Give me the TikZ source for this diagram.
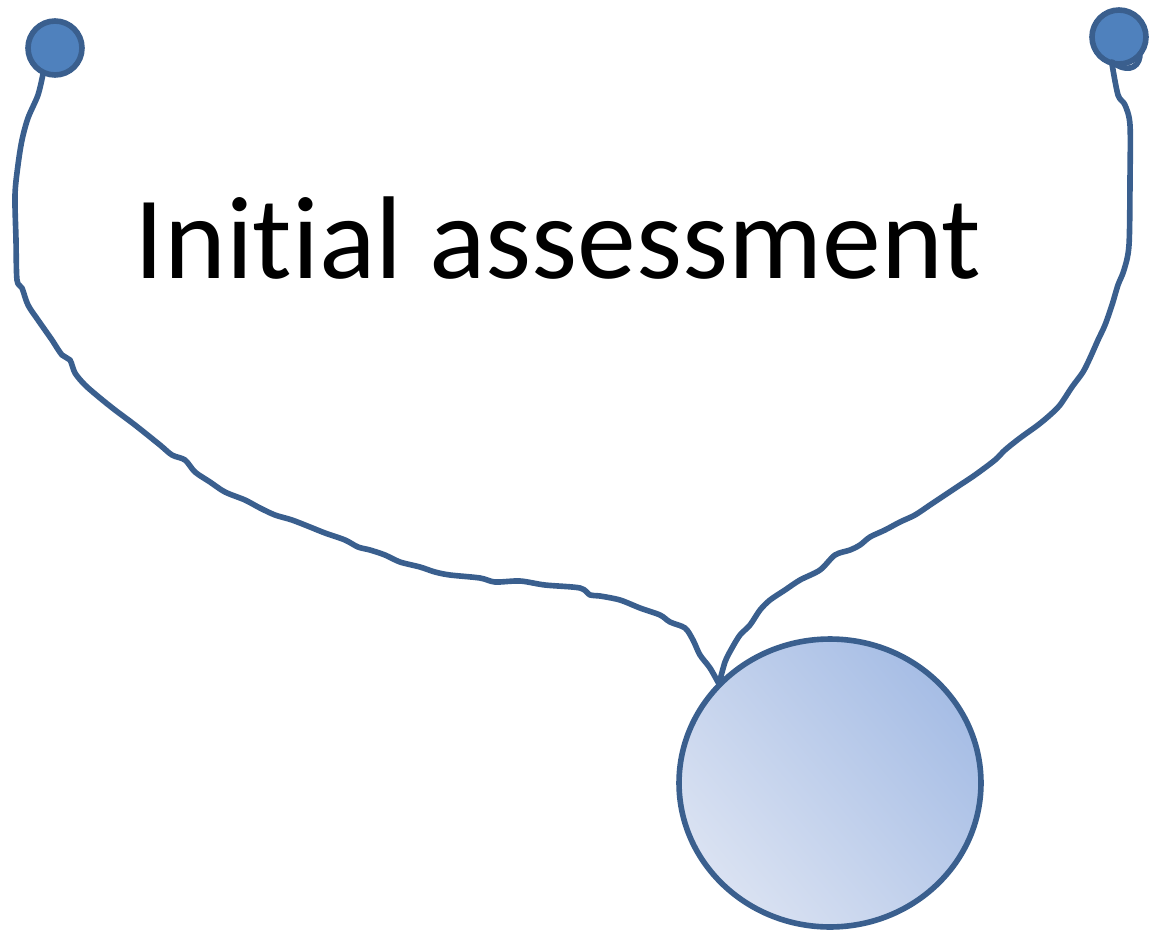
\documentclass[tikz,border=0pt]{standalone}
\usepackage{fontspec}
\setmainfont{Carlito}[Ligatures=NoCommon]
\usetikzlibrary{shapes.geometric}
\definecolor{tubeblue}{RGB}{58,95,142}
\definecolor{earblue}{RGB}{79,129,189}
\definecolor{belldark}{RGB}{166,189,229}
\definecolor{belllight}{RGB}{218,226,242}
\tikzset{
  tube/.style={draw=tubeblue,line width=3.2pt,line cap=round,line join=round},
  earpiece/.style={circle,draw=tubeblue,line width=3.2pt,fill=earblue,inner sep=0pt,minimum size=1.08cm},
  chest/.style={ellipse,draw=tubeblue,line width=3.2pt,inner sep=0pt,minimum width=6.04cm,minimum height=5.76cm,
    top color=belldark,bottom color=belllight,shading angle=-50}
}
\begin{document}
\begin{tikzpicture}[x=0.02cm,y=-0.02cm]
      \useasboundingbox (0,0) rectangle (1153,936);
      \node[chest] (bell) at (830,783) {};
      \node[earpiece] (leftear) at (55,48) {};
      \node[earpiece] (rightear) at (1119,37) {};
      \coordinate (joint) at (719,684);
      \draw[tube] plot[smooth,tension=0.5] coordinates {(43,74) (38,95) (28,118) (22,140) (18,165) (15,195) (16,240) (17,280) (22,288) (28,305) (38,320) (45,330) (52,340) (62,355) (70,360) (75,373) (85,385) (100,398) (115,410) (135,425) (160,445) (172,455) (185,460) (195,472) (210,482) (225,492) (245,500) (260,508) (275,515) (292,520) (310,527) (325,533) (345,540) (358,547) (370,550) (385,555) (400,562) (420,567) (435,572) (450,575) (480,578) (495,582) (520,581) (545,585) (580,588) (590,595) (600,596) (620,600) (640,608) (660,615) (670,622) (685,628) (693,640) (700,655) (710,668) (joint)};
      \draw[tube] plot[smooth,tension=0.5] coordinates {(1112,64) (1118,95) (1125,105) (1130,125) (1130,180) (1129,245) (1124,270) (1118,285) (1112,305) (1105,325) (1098,340) (1090,358) (1083,372) (1072,387) (1060,405) (1050,415) (1038,425) (1020,438) (1005,450) (995,460) (975,475) (960,485) (945,495) (930,505) (915,515) (900,522) (885,530) (870,537) (860,545) (850,550) (835,555) (820,570) (800,580) (785,590) (770,600) (760,610) (750,625) (740,635) (732,648) (725,662) (joint)};
      % small loop under the right earpiece
      \draw[tube] (1112,62) .. controls (1125,72) and (1138,70) .. (1140,56);
      \node[font=\fontsize{67}{71}\selectfont] (title) at (558,238) {Initial assessment};
\end{tikzpicture}
\end{document}
